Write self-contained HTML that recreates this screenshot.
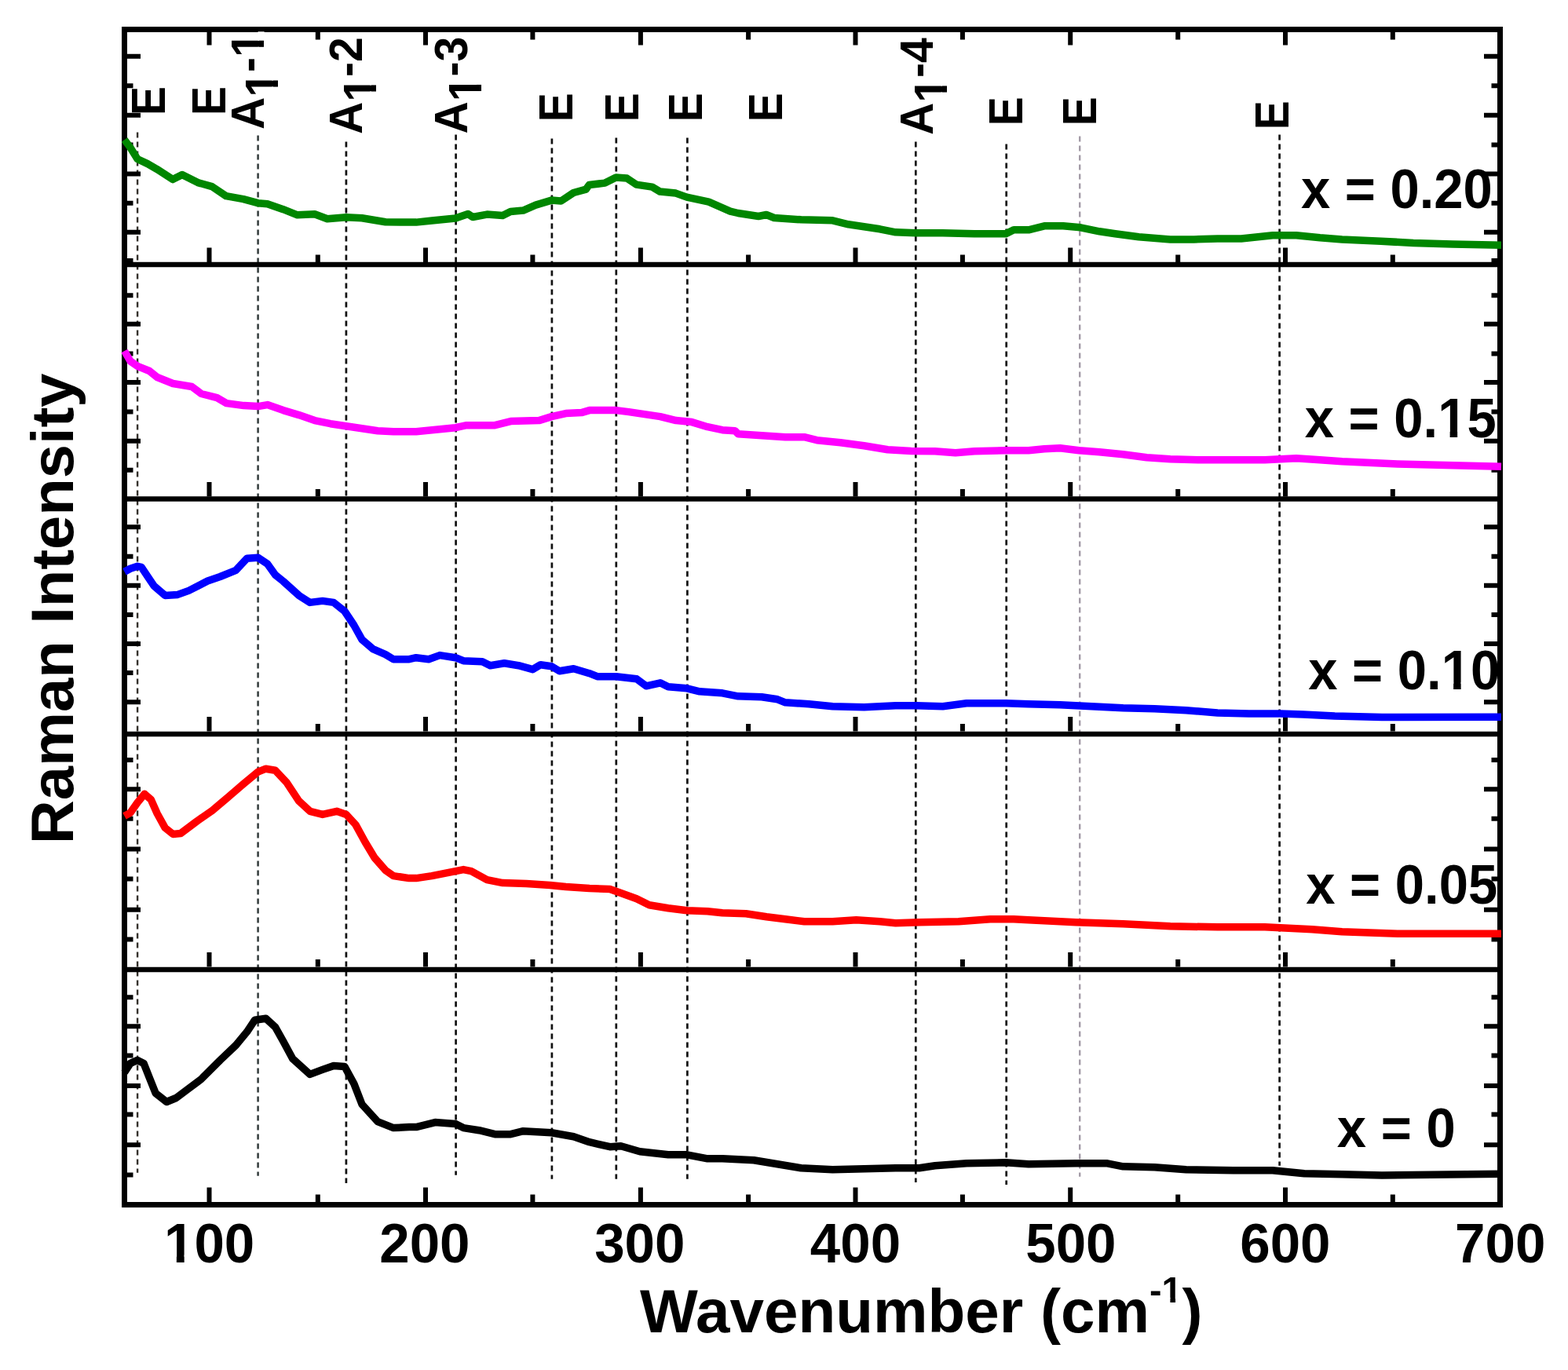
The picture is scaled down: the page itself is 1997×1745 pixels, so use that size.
<!DOCTYPE html>
<html><head><meta charset="utf-8"><title>Raman spectra</title>
<style>html,body{margin:0;padding:0;background:#fff;overflow:hidden}svg{display:block}</style>
</head><body>
<svg width="1997" height="1745" viewBox="0 0 1997 1745">
<rect x="0" y="0" width="1997" height="1745" fill="#fff"/>
<line x1="175.1" y1="168.4" x2="175.1" y2="1493.8" stroke="#35322c" stroke-width="2.4" stroke-dasharray="7 5"/>
<line x1="328.6" y1="172.5" x2="328.6" y2="1497.8" stroke="#333b3b" stroke-width="2.5" stroke-dasharray="7 5"/>
<line x1="440.9" y1="180.5" x2="440.9" y2="1506.9" stroke="#111" stroke-width="2.7" stroke-dasharray="7 5"/>
<line x1="580.6" y1="171.5" x2="580.6" y2="1496.8" stroke="#111" stroke-width="2.7" stroke-dasharray="7 5"/>
<line x1="702.9" y1="176.5" x2="702.9" y2="1501.8" stroke="#111" stroke-width="2.7" stroke-dasharray="7 5"/>
<line x1="784.8" y1="175.5" x2="784.8" y2="1501.8" stroke="#111" stroke-width="2.7" stroke-dasharray="7 5"/>
<line x1="875.4" y1="175.5" x2="875.4" y2="1501.8" stroke="#111" stroke-width="2.7" stroke-dasharray="7 5"/>
<line x1="1166.3" y1="180.5" x2="1166.3" y2="1505.9" stroke="#111" stroke-width="2.7" stroke-dasharray="7 5"/>
<line x1="1281.7" y1="183.5" x2="1281.7" y2="1508.9" stroke="#111" stroke-width="2.7" stroke-dasharray="7 5"/>
<line x1="1375.2" y1="173.5" x2="1375.2" y2="1498.8" stroke="#a39ba7" stroke-width="2.4" stroke-dasharray="7 5"/>
<line x1="1629.6" y1="171.5" x2="1629.6" y2="1484.8" stroke="#111" stroke-width="2.7" stroke-dasharray="7 5"/>
<path d="M162,71.8h17 M1907,71.8h-17 M162,109.3h7.5 M1907,109.3h-7.5 M162,146.8h17 M1907,146.8h-17 M162,184.5h7.5 M1907,184.5h-7.5 M162,221.6h17 M1907,221.6h-17 M162,258.7h7.5 M1907,258.7h-7.5 M162,295.8h17 M1907,295.8h-17 M162,332.0h7.5 M1907,332.0h-7.5 M162,376.2h7.5 M1907,376.2h-7.5 M162,412.7h17 M1907,412.7h-17 M162,450.4h7.5 M1907,450.4h-7.5 M162,486.9h17 M1907,486.9h-17 M162,524.6h7.5 M1907,524.6h-7.5 M162,561.7h17 M1907,561.7h-17 M162,598.8h7.5 M1907,598.8h-7.5 M162,671.2h17 M1907,671.2h-17 M162,708.7h7.5 M1907,708.7h-7.5 M162,745.8h17 M1907,745.8h-17 M162,782.9h7.5 M1907,782.9h-7.5 M162,820.0h17 M1907,820.0h-17 M162,857.1h7.5 M1907,857.1h-7.5 M162,894.2h17 M1907,894.2h-17 M162,968.1h7.5 M1907,968.1h-7.5 M162,1005.3h17 M1907,1005.3h-17 M162,1042.8h7.5 M1907,1042.8h-7.5 M162,1081.5h17 M1907,1081.5h-17 M162,1119.6h7.5 M1907,1119.6h-7.5 M162,1158.7h17 M1907,1158.7h-17 M162,1196.4h7.5 M1907,1196.4h-7.5 M162,1270.2h7.5 M1907,1270.2h-7.5 M162,1307.3h17 M1907,1307.3h-17 M162,1344.4h7.5 M1907,1344.4h-7.5 M162,1382.9h17 M1907,1382.9h-17 M162,1419.6h7.5 M1907,1419.6h-7.5 M162,1458.3h17 M1907,1458.3h-17 M162,1496.4h7.5 M1907,1496.4h-7.5 M266.5,334v-18.5 M542,334v-18.5 M815.9,334v-18.5 M1089.5,334v-18.5 M1363.2,334v-18.5 M1637,334v-18.5 M404.8,334v-9.5 M678.4,334v-9.5 M953.1,334v-9.5 M1225.9,334v-9.5 M1500.2,334v-9.5 M1773.8,334v-9.5 M266.5,632.5v-18.5 M542,632.5v-18.5 M815.9,632.5v-18.5 M1089.5,632.5v-18.5 M1363.2,632.5v-18.5 M1637,632.5v-18.5 M404.8,632.5v-9.5 M678.4,632.5v-9.5 M953.1,632.5v-9.5 M1225.9,632.5v-9.5 M1500.2,632.5v-9.5 M1773.8,632.5v-9.5 M266.5,931.5v-18.5 M542,931.5v-18.5 M815.9,931.5v-18.5 M1089.5,931.5v-18.5 M1363.2,931.5v-18.5 M1637,931.5v-18.5 M404.8,931.5v-9.5 M678.4,931.5v-9.5 M953.1,931.5v-9.5 M1225.9,931.5v-9.5 M1500.2,931.5v-9.5 M1773.8,931.5v-9.5 M266.5,1231.5v-18.5 M542,1231.5v-18.5 M815.9,1231.5v-18.5 M1089.5,1231.5v-18.5 M1363.2,1231.5v-18.5 M1637,1231.5v-18.5 M404.8,1231.5v-9.5 M678.4,1231.5v-9.5 M953.1,1231.5v-9.5 M1225.9,1231.5v-9.5 M1500.2,1231.5v-9.5 M1773.8,1231.5v-9.5 M266.5,1531v-18.5 M542,1531v-18.5 M815.9,1531v-18.5 M1089.5,1531v-18.5 M1363.2,1531v-18.5 M1637,1531v-18.5 M404.8,1531v-9.5 M678.4,1531v-9.5 M953.1,1531v-9.5 M1225.9,1531v-9.5 M1500.2,1531v-9.5 M1773.8,1531v-9.5 M266.5,41v16.5 M542,41v16.5 M815.9,41v16.5 M1089.5,41v16.5 M1363.2,41v16.5 M1637,41v16.5 M404.8,41v9.5 M678.4,41v9.5 M953.1,41v9.5 M1225.9,41v9.5 M1500.2,41v9.5 M1773.8,41v9.5" stroke="#000" stroke-width="6" fill="none"/>
<line x1="158.5" y1="337" x2="1910.5" y2="337" stroke="#000" stroke-width="6.5"/>
<line x1="158.5" y1="635.5" x2="1910.5" y2="635.5" stroke="#000" stroke-width="6.5"/>
<line x1="158.5" y1="935" x2="1910.5" y2="935" stroke="#000" stroke-width="6.5"/>
<line x1="158.5" y1="1235" x2="1910.5" y2="1235" stroke="#000" stroke-width="6.5"/>
<rect x="158.5" y="37.5" width="1752.0" height="1497.0" fill="none" stroke="#000" stroke-width="7"/>
<polyline points="158.5,178.0 166.0,188.0 175.0,202.5 188.0,208.6 200.0,215.6 220.0,228.6 232.0,222.6 252.0,232.6 270.0,237.6 288.0,249.7 310.0,253.7 328.6,258.7 340.6,259.7 360.7,266.7 378.7,273.8 400.8,272.8 416.8,278.8 440.9,276.8 461.0,277.8 491.0,282.8 530.0,283.1 550.0,281.0 580.1,278.1 596.1,272.5 602.1,276.5 620.2,273.1 640.2,274.5 650.2,269.5 666.3,268.1 682.3,261.1 702.3,255.1 714.4,256.1 730.4,245.5 746.4,241.1 750.4,235.5 770.5,233.1 784.5,226.1 798.5,227.1 810.5,235.1 830.6,238.1 840.6,244.1 860.7,246.1 874.7,251.1 902.7,257.1 930.0,269.1 940.0,271.5 966.0,275.5 976.0,273.5 986.0,277.5 1020.3,279.8 1060.4,280.8 1080.5,285.8 1100.5,288.8 1120.6,291.8 1140.7,295.8 1166.3,296.8 1200.8,296.8 1241.0,297.8 1281.1,297.8 1291.1,292.8 1310.0,292.8 1330.0,287.8 1354.1,287.8 1376.2,289.8 1400.3,294.8 1420.3,297.8 1450.4,301.8 1490.5,304.9 1520.6,304.9 1550.7,303.9 1580.8,303.9 1620.9,299.8 1651.0,299.8 1681.1,302.8 1709.2,304.9 1759.0,307.2 1800.0,309.5 1850.0,311.0 1912.0,312.2" fill="none" stroke="#008600" stroke-width="9.5" stroke-linejoin="round" stroke-linecap="butt"/>
<polyline points="158.5,447.0 166.0,460.0 175.1,466.4 190.2,472.5 200.2,480.5 220.2,488.5 244.3,492.5 256.3,501.5 276.4,506.6 288.4,513.6 310.5,516.6 328.6,517.6 340.6,515.6 360.7,522.6 380.7,528.6 400.8,535.6 420.8,539.7 440.9,542.7 461.0,545.7 481.0,548.7 501.1,549.7 530.0,549.7 550.0,547.7 580.2,544.7 594.2,541.7 630.3,541.7 650.4,536.6 686.5,535.6 702.5,530.6 720.6,526.6 740.6,525.6 750.7,522.6 784.8,522.6 800.8,524.6 820.9,527.6 840.9,530.6 861.0,535.6 881.1,537.6 901.1,543.7 920.0,547.7 936.0,548.7 940.0,552.7 970.2,554.7 1000.2,556.7 1024.3,556.7 1040.4,560.7 1070.5,563.7 1100.5,567.7 1130.6,572.8 1160.7,574.4 1190.8,574.8 1216.9,576.8 1241.0,574.8 1281.1,573.8 1310.0,573.8 1330.0,571.7 1350.1,570.8 1374.2,573.8 1400.3,575.8 1430.4,578.8 1460.5,582.8 1490.5,584.8 1530.7,585.8 1570.8,585.8 1610.9,585.8 1651.0,583.8 1681.1,585.8 1709.2,587.8 1780.0,591.0 1912.0,594.3" fill="none" stroke="#ff00ff" stroke-width="9.5" stroke-linejoin="round" stroke-linecap="butt"/>
<polyline points="158.5,728.3 166.0,724.3 175.1,721.3 180.1,722.3 188.1,734.3 196.2,746.4 210.2,758.4 226.3,757.4 240.3,752.4 264.4,740.0 280.4,734.5 300.5,726.3 314.5,711.3 328.6,710.3 340.6,718.3 350.6,732.3 360.7,740.4 380.7,758.4 394.8,767.4 410.8,765.4 424.9,767.4 438.9,778.5 450.9,796.5 461.0,814.6 475.0,826.6 491.0,833.6 501.1,839.7 521.1,839.7 530.0,837.7 546.0,839.7 560.1,834.6 580.2,837.7 590.2,841.7 614.3,842.7 624.3,847.7 642.3,844.7 660.4,847.7 678.4,852.7 688.5,846.7 702.5,848.7 712.5,854.7 730.6,851.7 750.7,857.7 760.7,861.7 784.8,861.7 810.8,864.7 822.9,873.8 840.9,869.8 851.0,874.8 875.0,876.8 891.1,880.8 920.0,882.8 940.0,886.8 970.2,887.8 990.2,890.8 1000.2,894.8 1030.3,896.8 1060.4,899.8 1100.5,900.8 1140.7,898.8 1166.7,898.8 1200.8,899.8 1230.9,895.8 1281.1,895.8 1310.0,896.8 1350.1,897.8 1390.2,899.8 1430.4,901.8 1470.5,902.8 1510.6,904.8 1550.7,907.9 1590.8,908.9 1631.0,908.9 1660.0,910.0 1700.0,912.0 1760.0,913.5 1912.0,913.3" fill="none" stroke="#0000ff" stroke-width="9.5" stroke-linejoin="round" stroke-linecap="butt"/>
<polyline points="158.5,1039.4 166.0,1035.3 175.1,1022.3 184.1,1011.3 192.2,1018.3 200.2,1036.3 210.2,1054.4 220.2,1062.4 230.3,1061.4 250.3,1046.4 270.4,1032.3 290.5,1015.3 310.5,998.2 328.6,983.2 338.6,979.2 350.6,981.2 364.7,996.2 380.7,1020.3 394.8,1033.3 410.8,1037.4 428.9,1033.3 440.9,1037.4 452.9,1050.4 465.0,1072.5 477.0,1092.5 491.1,1108.6 501.1,1115.6 521.1,1118.6 530.0,1118.6 550.0,1115.6 570.1,1111.6 590.2,1107.6 600.2,1109.6 620.3,1120.6 640.3,1124.6 670.4,1125.6 700.5,1127.6 720.6,1129.6 750.7,1131.6 776.7,1132.6 790.8,1137.6 810.8,1144.7 826.9,1152.7 851.0,1156.7 875.0,1159.7 901.1,1160.7 920.0,1162.7 950.1,1163.7 976.2,1167.7 1000.2,1170.8 1024.3,1173.8 1060.4,1173.8 1090.5,1171.8 1120.6,1173.8 1140.7,1175.8 1170.8,1174.8 1220.9,1173.8 1261.0,1170.8 1291.1,1170.8 1310.0,1171.8 1370.2,1174.8 1430.4,1176.8 1490.5,1179.8 1550.7,1180.8 1610.9,1180.8 1671.1,1183.8 1709.2,1186.8 1780.0,1189.3 1912.0,1189.3" fill="none" stroke="#ff0000" stroke-width="9.5" stroke-linejoin="round" stroke-linecap="butt"/>
<polyline points="158.5,1366.0 166.0,1354.4 175.1,1350.4 183.1,1354.4 190.2,1372.5 198.2,1392.5 212.2,1403.5 224.3,1398.5 240.3,1386.5 256.3,1374.5 280.4,1350.4 300.5,1331.3 314.5,1314.3 324.6,1299.2 338.6,1297.2 350.6,1308.3 360.7,1326.3 372.7,1348.4 394.8,1368.4 410.8,1362.4 424.9,1357.4 438.9,1358.4 450.9,1380.5 461.0,1406.6 481.0,1428.6 501.1,1436.6 521.1,1435.6 530.0,1435.6 554.1,1429.6 580.2,1431.6 590.2,1436.6 610.2,1439.7 630.3,1444.7 650.4,1444.7 666.4,1440.7 702.5,1442.7 730.6,1447.7 750.7,1454.7 776.7,1460.7 790.8,1459.7 814.9,1466.7 851.0,1470.8 875.0,1470.8 901.1,1475.8 920.0,1475.8 960.1,1477.8 990.2,1482.8 1020.3,1487.8 1060.4,1489.8 1100.5,1488.8 1140.7,1487.8 1170.8,1487.8 1190.8,1484.8 1230.9,1481.8 1281.1,1480.8 1310.0,1482.8 1370.2,1481.8 1410.3,1481.8 1430.4,1485.8 1470.5,1486.8 1510.6,1489.8 1570.8,1490.8 1620.9,1490.8 1661.0,1494.8 1709.2,1495.8 1760.0,1497.0 1912.0,1495.3" fill="none" stroke="#000000" stroke-width="9.5" stroke-linejoin="round" stroke-linecap="butt"/>
<g transform="translate(267.50,1582.50) scale(0.9596,0.9804) translate(-361.00,-274.50)"><g transform="translate(300,300)"><text x="0" y="0" style="font-family:'Liberation Sans', Arial, Helvetica, sans-serif;font-weight:bold;fill:#000;font-size:72px">100</text><rect x="2.16" y="-9.22" width="14.40" height="10.08" fill="#fff"/><rect x="26.78" y="-9.22" width="14.40" height="10.08" fill="#fff"/></g></g>
<g transform="translate(540.85,1582.50) scale(0.9596,0.9804) translate(-360.00,-274.50)"><g transform="translate(300,300)"><text x="0" y="0" style="font-family:'Liberation Sans', Arial, Helvetica, sans-serif;font-weight:bold;fill:#000;font-size:72px">200</text></g></g>
<g transform="translate(814.25,1582.50) scale(0.9596,0.9804) translate(-359.50,-274.50)"><g transform="translate(300,300)"><text x="0" y="0" style="font-family:'Liberation Sans', Arial, Helvetica, sans-serif;font-weight:bold;fill:#000;font-size:72px">300</text></g></g>
<g transform="translate(1088.45,1582.50) scale(0.9596,0.9804) translate(-359.00,-274.50)"><g transform="translate(300,300)"><text x="0" y="0" style="font-family:'Liberation Sans', Arial, Helvetica, sans-serif;font-weight:bold;fill:#000;font-size:72px">400</text></g></g>
<g transform="translate(1363.35,1582.50) scale(0.9596,0.9804) translate(-359.50,-274.50)"><g transform="translate(300,300)"><text x="0" y="0" style="font-family:'Liberation Sans', Arial, Helvetica, sans-serif;font-weight:bold;fill:#000;font-size:72px">500</text></g></g>
<g transform="translate(1636.80,1582.50) scale(0.9596,0.9804) translate(-360.00,-274.50)"><g transform="translate(300,300)"><text x="0" y="0" style="font-family:'Liberation Sans', Arial, Helvetica, sans-serif;font-weight:bold;fill:#000;font-size:72px">600</text></g></g>
<g transform="translate(1910.65,1582.50) scale(0.9596,0.9804) translate(-360.00,-274.50)"><g transform="translate(300,300)"><text x="0" y="0" style="font-family:'Liberation Sans', Arial, Helvetica, sans-serif;font-weight:bold;fill:#000;font-size:72px">700</text></g></g>
<g transform="translate(1171.50,1670.30) scale(0.9903,0.9954) translate(-660.00,-273.50)"><g transform="translate(300,300)"><text x="0" y="0" style="font-family:'Liberation Sans', Arial, Helvetica, sans-serif;font-weight:bold;fill:#000;font-size:79px">Wavenumber (cm<tspan dy="-38" style="font-size:47px">-1</tspan><tspan dy="38">)</tspan></text><rect x="672.63" y="-44.02" width="9.40" height="6.58" fill="#fff"/><rect x="688.70" y="-44.02" width="9.40" height="6.58" fill="#fff"/></g></g>
<g transform="translate(73.20,773.00) scale(0.9573,0.9831) translate(-279.50,-592.50)"><g transform="translate(300,900) rotate(-90)"><text x="0" y="0" style="font-family:'Liberation Sans', Arial, Helvetica, sans-serif;font-weight:bold;fill:#000;font-size:79px">Raman Intensity</text></g></g>
<g transform="translate(1777.95,240.15) scale(0.9571,1.0020) translate(-426.50,-275.50)"><g transform="translate(300,300)"><text x="0" y="0" style="font-family:'Liberation Sans', Arial, Helvetica, sans-serif;font-weight:bold;fill:#000;font-size:70px;white-space:pre">x = 0.20</text></g></g>
<g transform="translate(1783.30,532.15) scale(0.9571,1.0020) translate(-427.00,-275.50)"><g transform="translate(300,300)"><text x="0" y="0" style="font-family:'Liberation Sans', Arial, Helvetica, sans-serif;font-weight:bold;fill:#000;font-size:70px;white-space:pre">x = 0.15</text><rect x="179.18" y="-8.96" width="14.00" height="9.80" fill="#fff"/><rect x="203.12" y="-8.96" width="14.00" height="9.80" fill="#fff"/></g></g>
<g transform="translate(1787.30,853.65) scale(0.9571,1.0020) translate(-426.50,-275.50)"><g transform="translate(300,300)"><text x="0" y="0" style="font-family:'Liberation Sans', Arial, Helvetica, sans-serif;font-weight:bold;fill:#000;font-size:70px;white-space:pre">x = 0.10</text><rect x="179.18" y="-8.96" width="14.00" height="9.80" fill="#fff"/><rect x="203.12" y="-8.96" width="14.00" height="9.80" fill="#fff"/></g></g>
<g transform="translate(1784.80,1126.25) scale(0.9571,1.0020) translate(-427.00,-275.50)"><g transform="translate(300,300)"><text x="0" y="0" style="font-family:'Liberation Sans', Arial, Helvetica, sans-serif;font-weight:bold;fill:#000;font-size:70px;white-space:pre">x = 0.05</text></g></g>
<g transform="translate(1777.45,1436.65) scale(0.9571,1.0020) translate(-378.00,-275.50)"><g transform="translate(300,300)"><text x="0" y="0" style="font-family:'Liberation Sans', Arial, Helvetica, sans-serif;font-weight:bold;fill:#000;font-size:70px;white-space:pre">x = 0</text></g></g>
<g transform="translate(189.50,127.65) scale(1.0789,0.9889) translate(-281.00,-280.50)"><g transform="translate(300,300) rotate(-90)"><text x="0" y="0" style="font-family:'Liberation Sans', Arial, Helvetica, sans-serif;font-weight:bold;fill:#000;font-size:56px">E</text></g></g>
<g transform="translate(266.40,127.65) scale(1.0789,0.9889) translate(-281.00,-280.50)"><g transform="translate(300,300) rotate(-90)"><text x="0" y="0" style="font-family:'Liberation Sans', Arial, Helvetica, sans-serif;font-weight:bold;fill:#000;font-size:56px">E</text></g></g>
<g transform="translate(708.05,135.85) scale(1.0789,0.9889) translate(-281.00,-280.50)"><g transform="translate(300,300) rotate(-90)"><text x="0" y="0" style="font-family:'Liberation Sans', Arial, Helvetica, sans-serif;font-weight:bold;fill:#000;font-size:56px">E</text></g></g>
<g transform="translate(792.25,135.85) scale(1.0789,0.9889) translate(-281.00,-280.50)"><g transform="translate(300,300) rotate(-90)"><text x="0" y="0" style="font-family:'Liberation Sans', Arial, Helvetica, sans-serif;font-weight:bold;fill:#000;font-size:56px">E</text></g></g>
<g transform="translate(873.50,135.85) scale(1.0789,0.9889) translate(-281.00,-280.50)"><g transform="translate(300,300) rotate(-90)"><text x="0" y="0" style="font-family:'Liberation Sans', Arial, Helvetica, sans-serif;font-weight:bold;fill:#000;font-size:56px">E</text></g></g>
<g transform="translate(975.60,135.85) scale(1.0789,0.9889) translate(-281.00,-280.50)"><g transform="translate(300,300) rotate(-90)"><text x="0" y="0" style="font-family:'Liberation Sans', Arial, Helvetica, sans-serif;font-weight:bold;fill:#000;font-size:56px">E</text></g></g>
<g transform="translate(1281.50,140.85) scale(1.0789,0.9889) translate(-281.00,-280.50)"><g transform="translate(300,300) rotate(-90)"><text x="0" y="0" style="font-family:'Liberation Sans', Arial, Helvetica, sans-serif;font-weight:bold;fill:#000;font-size:56px">E</text></g></g>
<g transform="translate(1375.50,140.85) scale(1.0789,0.9889) translate(-281.00,-280.50)"><g transform="translate(300,300) rotate(-90)"><text x="0" y="0" style="font-family:'Liberation Sans', Arial, Helvetica, sans-serif;font-weight:bold;fill:#000;font-size:56px">E</text></g></g>
<g transform="translate(1620.50,145.85) scale(1.0789,0.9889) translate(-281.00,-280.50)"><g transform="translate(300,300) rotate(-90)"><text x="0" y="0" style="font-family:'Liberation Sans', Arial, Helvetica, sans-serif;font-weight:bold;fill:#000;font-size:56px">E</text></g></g>
<g transform="translate(325.00,107.35) scale(1.0455,1.0195) translate(-289.50,-343.50)"><g transform="translate(300,400) rotate(-90)"><text x="0" y="0" style="font-family:'Liberation Sans', Arial, Helvetica, sans-serif;font-weight:bold;fill:#000;font-size:56px">A<tspan dy="17">1</tspan><tspan dy="-17">-1</tspan></text><rect x="42.13" y="9.83" width="11.20" height="7.84" fill="#fff"/><rect x="61.29" y="9.83" width="11.20" height="7.84" fill="#fff"/><rect x="91.93" y="-7.17" width="11.20" height="7.84" fill="#fff"/><rect x="111.08" y="-7.17" width="11.20" height="7.84" fill="#fff"/></g></g>
<g transform="translate(449.90,109.20) scale(1.0455,1.0195) translate(-289.50,-339.50)"><g transform="translate(300,400) rotate(-90)"><text x="0" y="0" style="font-family:'Liberation Sans', Arial, Helvetica, sans-serif;font-weight:bold;fill:#000;font-size:56px">A<tspan dy="17">1</tspan><tspan dy="-17">-2</tspan></text><rect x="42.13" y="9.83" width="11.20" height="7.84" fill="#fff"/><rect x="61.29" y="9.83" width="11.20" height="7.84" fill="#fff"/></g></g>
<g transform="translate(584.50,108.70) scale(1.0455,1.0195) translate(-289.50,-339.50)"><g transform="translate(300,400) rotate(-90)"><text x="0" y="0" style="font-family:'Liberation Sans', Arial, Helvetica, sans-serif;font-weight:bold;fill:#000;font-size:56px">A<tspan dy="17">1</tspan><tspan dy="-17">-3</tspan></text><rect x="42.13" y="9.83" width="11.20" height="7.84" fill="#fff"/><rect x="61.29" y="9.83" width="11.20" height="7.84" fill="#fff"/></g></g>
<g transform="translate(1177.30,109.20) scale(1.0455,1.0195) translate(-289.50,-338.50)"><g transform="translate(300,400) rotate(-90)"><text x="0" y="0" style="font-family:'Liberation Sans', Arial, Helvetica, sans-serif;font-weight:bold;fill:#000;font-size:56px">A<tspan dy="17">1</tspan><tspan dy="-17">-4</tspan></text><rect x="42.13" y="9.83" width="11.20" height="7.84" fill="#fff"/><rect x="61.29" y="9.83" width="11.20" height="7.84" fill="#fff"/></g></g>
</svg>
</body></html>
